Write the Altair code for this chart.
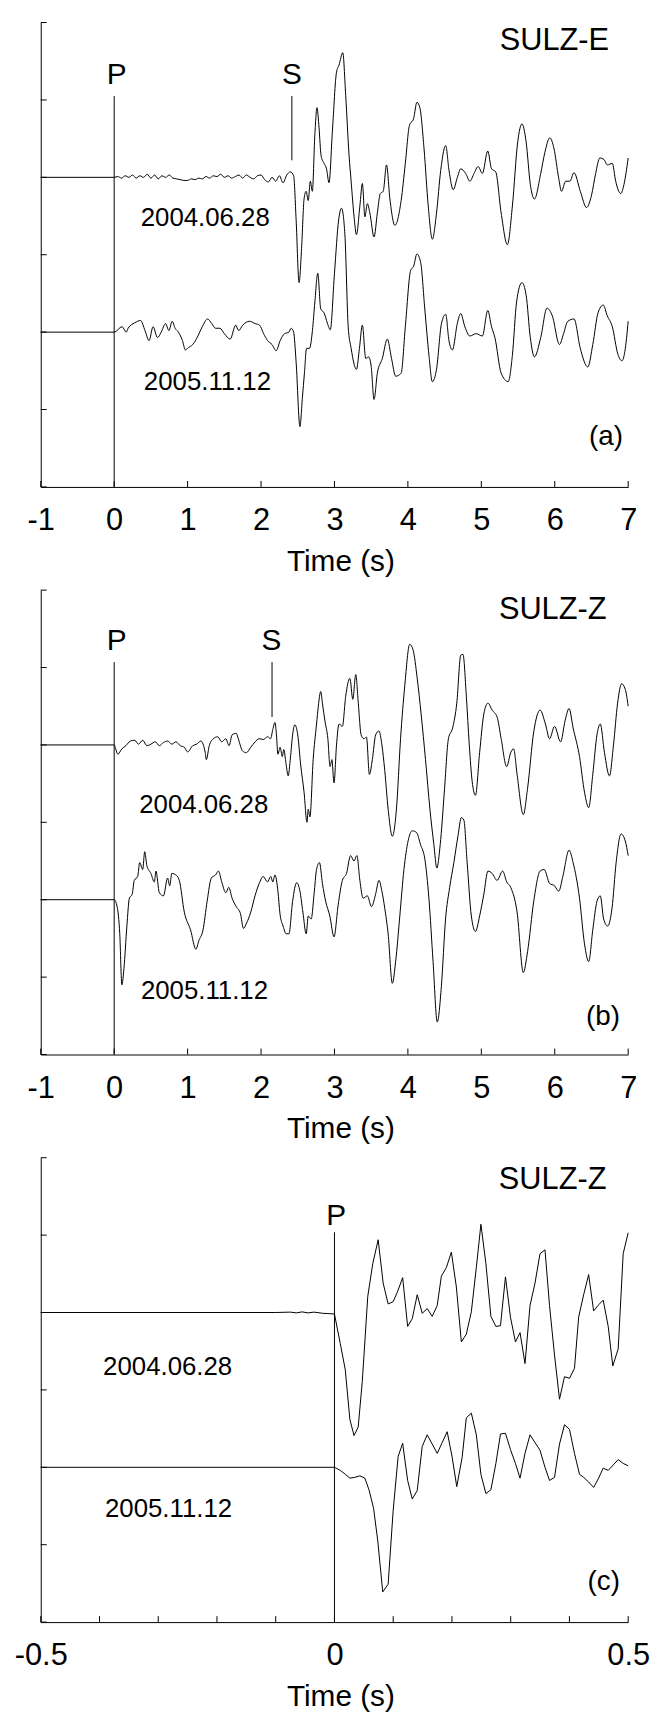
import altair as alt
import pandas as pd

FONT = "Liberation Sans, Arial, Helvetica, sans-serif"

# ---------------- data: (time s, relative amplitude) ----------------
# (a) SULZ-E
E_2004 = [(-1.0, 0.0), (0.0, 0.0), (0.05, 0.01), (0.1, -0.01), (0.15, 0.02), (0.2, 0.0), (0.25, 0.03), (0.3, -0.01),
          (0.35, 0.02), (0.4, 0.0), (0.45, 0.04), (0.5, -0.01), (0.55, 0.03), (0.6, -0.02), (0.65, 0.02), (0.7, 0.0),
          (0.75, 0.03), (0.8, -0.01), (0.85, -0.02), (0.9, -0.03), (0.95, -0.04), (1.0, -0.04), (1.05, -0.02),
          (1.1, -0.03), (1.15, -0.01), (1.2, -0.02), (1.25, 0.01), (1.3, -0.01), (1.35, 0.02), (1.4, 0.01),
          (1.45, 0.04), (1.5, 0.0), (1.55, 0.02), (1.6, -0.01), (1.65, 0.01), (1.7, 0.03), (1.75, -0.01), (1.8, 0.03),
          (1.85, 0.0), (1.9, -0.02), (1.95, 0.02), (2.0, 0.03), (2.05, -0.03), (2.1, -0.06), (2.15, 0.0), (2.2, -0.05),
          (2.25, 0.02), (2.3, -0.07), (2.35, 0.03), (2.4, 0.07), (2.444, 0.02),
          (2.478, -0.55), (2.518, -1.36), (2.552, -0.92), (2.586, -0.28), (2.614, -0.18), (2.643, -0.30),
          (2.671, -0.05), (2.699, -0.18), (2.733, 0.55), (2.762, 0.90), (2.79, 0.64), (2.818, 0.28), (2.858, 0.18),
          (2.892, 0.11), (2.926, -0.07), (2.972, 0.60), (3.028, 1.36), (3.062, 1.45), (3.113, 1.61), (3.153, 1.06),
          (3.199, 0.28), (3.227, -0.05), (3.267, -0.51), (3.30, -0.74), (3.346, -0.37), (3.380, -0.08),
          (3.414, -0.51), (3.448, -0.34), (3.482, -0.46), (3.539, -0.77), (3.584, -0.46), (3.624, -0.21),
          (3.664, -0.18), (3.709, 0.16), (3.755, -0.28), (3.823, -0.62), (3.908, -0.30), (3.965, 0.18), (4.021, 0.67),
          (4.078, 0.76), (4.123, 0.97), (4.163, 0.90), (4.220, 0.37), (4.277, -0.37), (4.333, -0.80), (4.390, -0.46),
          (4.447, 0.09), (4.515, 0.41), (4.560, 0.09), (4.617, -0.16), (4.674, 0.0), (4.719, 0.11), (4.787, 0.05),
          (4.844, -0.05), (4.901, 0.05), (4.957, 0.14), (5.014, 0.05), (5.088, 0.34), (5.139, 0.11), (5.196, 0.07),
          (5.270, -0.46), (5.355, -0.87), (5.423, -0.37), (5.496, 0.46), (5.553, 0.69), (5.610, 0.46),
          (5.667, -0.09), (5.723, -0.28), (5.809, 0.05), (5.865, 0.32), (5.933, 0.51), (5.990, 0.37), (6.052, 0.0),
          (6.092, -0.18), (6.149, -0.05), (6.206, -0.05), (6.262, 0.06), (6.348, -0.18), (6.433, -0.39),
          (6.501, -0.23), (6.557, 0.05), (6.614, 0.25), (6.67, 0.23), (6.716, 0.16), (6.784, 0.18), (6.83, -0.05),
          (6.898, -0.21), (6.943, -0.09), (7.0, 0.25)]

E_2005 = [(-1.0, 0.0), (0.0, 0.0), (0.108, 0.07), (0.165, 0.0), (0.19, 0.05), (0.28, 0.12), (0.36, 0.15), (0.42, 0.02),
          (0.475, -0.11), (0.53, 0.07), (0.59, -0.07), (0.64, 0.0), (0.70, 0.11), (0.745, 0.02), (0.79, 0.14),
          (0.83, 0.05), (0.875, 0.0), (0.93, -0.11), (0.97, -0.23), (1.01, -0.20), (1.07, -0.16), (1.13, -0.07),
          (1.20, 0.07), (1.27, 0.17), (1.33, 0.11), (1.38, 0.05), (1.44, 0.05), (1.50, -0.02), (1.58, -0.09),
          (1.655, 0.09), (1.695, 0.02), (1.75, 0.09), (1.84, 0.14), (1.92, 0.11), (1.98, 0.09), (2.035, -0.02),
          (2.09, -0.11), (2.15, -0.16), (2.206, -0.24), (2.26, -0.11), (2.32, -0.02), (2.38, 0.0), (2.41, 0.05),
          (2.444, 0.0), (2.478, -0.39), (2.53, -1.22), (2.563, -0.85), (2.591, -0.53), (2.62, -0.21), (2.66, -0.21),
          (2.70, 0.02), (2.733, 0.39), (2.773, 0.76), (2.813, 0.30), (2.858, 0.25), (2.904, 0.115), (2.943, 0.03),
          (3.0, 0.76), (3.057, 1.45), (3.096, 1.60), (3.142, 1.26), (3.187, 0.07), (3.227, -0.21), (3.30, -0.48),
          (3.34, -0.21), (3.38, 0.09), (3.426, -0.34), (3.465, -0.32), (3.50, -0.44), (3.539, -0.87), (3.584, -0.53),
          (3.652, -0.34), (3.72, -0.09), (3.777, -0.34), (3.834, -0.57), (3.908, -0.53), (3.965, 0.07), (4.038, 0.80),
          (4.078, 0.85), (4.123, 1.01), (4.174, 0.90), (4.23, 0.30), (4.287, -0.30), (4.333, -0.64), (4.39, -0.48),
          (4.458, 0.115), (4.515, 0.23), (4.56, -0.115), (4.606, -0.23), (4.674, 0.115), (4.719, 0.24), (4.776, 0.07),
          (4.844, -0.05), (4.929, -0.02), (5.014, -0.05), (5.088, 0.28), (5.139, 0.07), (5.185, -0.07), (5.27, -0.53),
          (5.366, -0.64), (5.423, -0.30), (5.48, 0.39), (5.553, 0.64), (5.61, 0.48), (5.667, -0.07), (5.723, -0.32),
          (5.809, -0.07), (5.894, 0.31), (5.967, 0.21), (6.064, -0.16), (6.12, -0.02), (6.177, 0.14), (6.262, 0.17),
          (6.348, -0.21), (6.45, -0.45), (6.518, -0.16), (6.59, 0.25), (6.66, 0.35), (6.716, 0.21), (6.784, 0.07),
          (6.858, -0.28), (6.915, -0.37), (6.955, -0.25), (7.0, 0.14)]

# (b) SULZ-Z
Z_2004 = [(-1.0, 0.0), (0.0, 0.0), (0.02, -0.05), (0.05, -0.12), (0.105, -0.05), (0.16, -0.01), (0.22, 0.05),
          (0.28, 0.06), (0.33, 0.01), (0.39, 0.06), (0.445, -0.01), (0.50, 0.01), (0.56, 0.04), (0.615, -0.01),
          (0.67, 0.03), (0.73, 0.05), (0.785, 0.01), (0.84, 0.04), (0.90, -0.01), (0.955, -0.03), (1.0, -0.09),
          (1.07, -0.01), (1.125, 0.01), (1.18, 0.05), (1.24, -0.10), (1.255, -0.19), (1.295, -0.01), (1.35, 0.08),
          (1.41, 0.105), (1.465, 0.04), (1.52, 0.08), (1.565, -0.01), (1.606, 0.13), (1.663, 0.15), (1.69, 0.08),
          (1.75, -0.08), (1.80, -0.10), (1.86, -0.03), (1.92, 0.04), (1.975, 0.08), (2.03, 0.07), (2.09, 0.105),
          (2.13, 0.08), (2.16, 0.20), (2.19, 0.29), (2.21, 0.13), (2.23, -0.12), (2.26, -0.03), (2.29, -0.15),
          (2.31, -0.06), (2.34, -0.24), (2.37, -0.40), (2.40, -0.17), (2.43, 0.13), (2.46, 0.26), (2.50, 0.13),
          (2.54, -0.26), (2.586, -0.61), (2.626, -1.0), (2.643, -0.83), (2.666, -0.93), (2.71, -0.19), (2.756, 0.27),
          (2.78, 0.50), (2.813, 0.69), (2.836, 0.54), (2.87, 0.31), (2.91, 0.08), (2.94, -0.28), (2.965, -0.19),
          (2.994, -0.49), (3.028, 0.0), (3.062, 0.27), (3.108, 0.24), (3.153, 0.63), (3.21, 0.86), (3.25, 0.59),
          (3.29, 0.91), (3.323, 0.56), (3.363, 0.13), (3.40, 0.08), (3.436, 0.10), (3.476, -0.38), (3.516, -0.19),
          (3.561, 0.13), (3.606, 0.18), (3.646, 0.0), (3.685, -0.33), (3.731, -0.83), (3.788, -1.18), (3.844, -0.83),
          (3.90, 0.08), (3.958, 0.77), (4.025, 1.30), (4.07, 1.23), (4.127, 0.86), (4.18, 0.40), (4.24, -0.19),
          (4.30, -0.83), (4.354, -1.29), (4.394, -1.59), (4.44, -1.29), (4.496, -0.61), (4.552, 0.08), (4.609, 0.22),
          (4.666, 0.54), (4.72, 1.16), (4.75, 1.17), (4.796, 0.63), (4.836, 0.0), (4.875, -0.47), (4.92, -0.65),
          (4.977, -0.10), (5.034, 0.40), (5.09, 0.54), (5.147, 0.45), (5.215, 0.36), (5.27, 0.08), (5.345, -0.28),
          (5.40, -0.10), (5.44, -0.05), (5.487, -0.38), (5.572, -0.90), (5.63, -0.56), (5.714, 0.17), (5.80, 0.45),
          (5.873, 0.27), (5.93, 0.08), (5.997, 0.24), (6.08, 0.04), (6.14, 0.31), (6.195, 0.47), (6.25, 0.22),
          (6.337, -0.15), (6.405, -0.61), (6.462, -0.81), (6.518, -0.38), (6.575, 0.13), (6.62, 0.27), (6.677, -0.10),
          (6.745, -0.40), (6.80, 0.0), (6.856, 0.54), (6.91, 0.79), (6.96, 0.72), (7.0, 0.50)]

Z_2005 = [(-1.0, 0.0), (0.0, 0.0), (0.04, -0.09), (0.076, -0.44), (0.105, -1.10), (0.133, -0.89), (0.173, -0.34),
          (0.207, 0.02), (0.245, 0.07), (0.274, 0.25), (0.32, 0.30), (0.348, 0.48), (0.388, 0.39), (0.416, 0.62),
          (0.445, 0.44), (0.50, 0.34), (0.547, 0.23), (0.569, 0.37), (0.615, 0.09), (0.671, 0.05), (0.728, 0.28),
          (0.756, 0.18), (0.785, 0.34), (0.84, 0.32), (0.887, 0.25), (0.955, -0.16), (1.04, -0.39), (1.113, -0.64),
          (1.153, -0.53), (1.21, -0.39), (1.266, -0.02), (1.323, 0.28), (1.38, 0.32), (1.42, 0.37), (1.465, 0.23),
          (1.52, 0.09), (1.56, 0.16), (1.606, 0.02), (1.663, -0.09), (1.72, -0.18), (1.76, -0.37), (1.804, -0.30),
          (1.86, -0.16), (1.918, 0.05), (1.975, 0.21), (2.03, 0.30), (2.088, 0.23), (2.133, 0.30), (2.16, 0.23),
          (2.19, 0.32), (2.23, 0.11), (2.258, -0.18), (2.30, -0.34), (2.343, -0.44), (2.38, -0.44), (2.43, -0.02),
          (2.485, 0.22), (2.53, 0.11), (2.57, -0.16), (2.615, -0.44), (2.643, -0.21), (2.683, -0.25), (2.722, 0.07),
          (2.756, 0.39), (2.796, 0.48), (2.836, 0.21), (2.88, -0.02), (2.937, -0.21), (2.994, -0.48), (3.05, -0.07),
          (3.108, 0.25), (3.164, 0.34), (3.22, 0.57), (3.266, 0.50), (3.306, 0.57), (3.346, 0.25), (3.39, 0.02),
          (3.448, 0.05), (3.504, -0.09), (3.56, 0.07), (3.606, 0.25), (3.646, 0.11), (3.685, -0.11), (3.731, -0.44),
          (3.788, -1.08), (3.833, -0.80), (3.89, -0.21), (3.946, 0.39), (4.003, 0.76), (4.06, 0.89), (4.116, 0.87),
          (4.173, 0.71), (4.23, 0.53), (4.286, 0.02), (4.343, -0.80), (4.40, -1.58), (4.456, -1.12), (4.513, -0.25),
          (4.569, 0.16), (4.626, 0.48), (4.683, 0.83), (4.728, 1.06), (4.762, 1.03), (4.807, 0.48), (4.864, -0.21),
          (4.92, -0.41), (4.977, -0.21), (5.034, 0.07), (5.09, 0.37), (5.147, 0.34), (5.215, 0.25), (5.29, 0.37),
          (5.346, 0.23), (5.40, 0.16), (5.487, -0.16), (5.572, -0.94), (5.63, -0.67), (5.714, -0.02), (5.80, 0.37),
          (5.856, 0.39), (5.93, 0.21), (5.997, 0.18), (6.054, 0.11), (6.11, 0.30), (6.195, 0.64), (6.25, 0.48),
          (6.337, 0.02), (6.405, -0.57), (6.462, -0.80), (6.518, -0.39), (6.575, -0.02), (6.62, 0.05), (6.666, -0.25),
          (6.72, -0.34), (6.78, -0.11), (6.836, 0.48), (6.903, 0.85), (6.96, 0.76), (7.0, 0.57)]

# (c) SULZ-Z, zoom around P
ZP_2004 = [(-0.5, 0.0), (-0.1, 0.0), (-0.075, 0.005), (-0.065, -0.005), (-0.055, 0.008), (-0.045, -0.005),
           (-0.035, 0.005), (-0.02, -0.01), (-0.008, -0.015), (0.0, -0.02), (0.0099, -0.40), (0.0184, -0.74),
           (0.0262, -1.38), (0.0333, -1.59), (0.0404, -1.48), (0.0474, -0.89), (0.0567, 0.21), (0.0652, 0.63),
           (0.0744, 0.94), (0.0829, 0.38), (0.0914, 0.11), (0.0999, 0.14), (0.1069, 0.26), (0.1161, 0.45),
           (0.1246, -0.18), (0.1324, -0.08), (0.1409, 0.23), (0.1494, -0.01), (0.1579, 0.05), (0.1664, -0.05),
           (0.1749, 0.09), (0.182, 0.47), (0.1905, 0.58), (0.199, 0.78), (0.2075, 0.33), (0.216, -0.38),
           (0.2245, -0.28), (0.233, 0.01), (0.2415, 0.58), (0.2493, 1.14), (0.2578, 0.63), (0.2663, -0.05),
           (0.2748, -0.18), (0.2826, -0.17), (0.2911, 0.46), (0.2996, -0.06), (0.3081, -0.38), (0.3159, -0.26),
           (0.3244, -0.66), (0.3329, 0.09), (0.3414, 0.38), (0.3499, 0.76), (0.3584, 0.81), (0.3661, 0.09),
           (0.3746, -0.55), (0.3831, -1.12), (0.3916, -0.83), (0.4001, -0.85), (0.4086, -0.72), (0.4157, -0.06),
           (0.4242, 0.23), (0.4327, 0.49), (0.4412, 0.02), (0.4497, 0.10), (0.4575, 0.16), (0.466, -0.18),
           (0.4738, -0.69), (0.483, -0.47), (0.4915, 0.76), (0.5, 1.03)]

ZP_2005 = [(-0.5, 0.0), (0.0, 0.0), (0.0099, -0.04), (0.0184, -0.09), (0.0262, -0.14), (0.0347, -0.13),
           (0.0432, -0.11), (0.0517, -0.14), (0.0588, -0.29), (0.0666, -0.53), (0.0737, -0.95), (0.0822, -1.61),
           (0.0914, -1.51), (0.0999, -0.56), (0.1084, 0.14), (0.1161, 0.31), (0.1246, -0.17), (0.1324, -0.41),
           (0.1409, -0.30), (0.1494, 0.27), (0.1579, 0.42), (0.1664, 0.30), (0.1749, 0.18), (0.1834, 0.32),
           (0.1919, 0.46), (0.2004, 0.13), (0.2082, -0.25), (0.2174, 0.13), (0.2245, 0.64), (0.233, 0.70),
           (0.2415, 0.42), (0.2493, -0.09), (0.2578, -0.34), (0.2663, -0.29), (0.2748, 0.05), (0.2826, 0.43),
           (0.2911, 0.44), (0.2996, 0.23), (0.3081, 0.05), (0.3159, -0.14), (0.3244, 0.18), (0.3329, 0.42),
           (0.3414, 0.32), (0.3499, 0.22), (0.3584, 0.0), (0.3661, -0.17), (0.3746, -0.13), (0.3831, 0.30),
           (0.3916, 0.55), (0.4001, 0.49), (0.4086, 0.18), (0.4171, -0.09), (0.4242, -0.13), (0.4327, -0.19),
           (0.4412, -0.26), (0.4497, -0.14), (0.4575, -0.01), (0.466, -0.04), (0.4745, 0.03), (0.483, 0.10),
           (0.4915, 0.05), (0.5, 0.02)]

# trace offsets on the (unlabelled) y axis
OFFSETS = {"2004.06.28": 4, "2005.11.12": 2}

TICKS_AB = [-1, 0, 1, 2, 3, 4, 5, 6, 7]
LABELS_AB = [-1, 0, 1, 2, 3, 4, 5, 6, 7]
TICKS_C = [-0.5, -0.4, -0.3, -0.2, -0.1, 0.0, 0.1, 0.2, 0.3, 0.4, 0.5]
LABELS_C = [-0.5, 0, 0.5]
Y_TICKS = [0, 1, 2, 3, 4, 5, 6]

# annotations (text, t, y, size, align)
ANN_A = [("SULZ-E", 6.74, 5.65, 31, "right"), ("P", 0.035, 5.21, 30, "center"), ("S", 2.42, 5.21, 30, "center"),
         ("2004.06.28", 1.24, 3.375, 26, "center"), ("2005.11.12", 1.27, 1.255, 26, "center"),
         ("(a)", 6.93, 0.548, 28, "right")]
ANN_B = [("SULZ-Z", 6.705, 5.624, 31, "right"), ("P", 0.035, 5.225, 30, "center"), ("S", 2.14, 5.225, 30, "center"),
         ("2004.06.28", 1.22, 3.124, 26, "center"), ("2005.11.12", 1.23, 0.716, 26, "center"),
         ("(b)", 6.887, 0.376, 28, "right")]
ANN_C = [("SULZ-Z", 0.463, 5.594, 31, "right"), ("P", 0.003, 5.13, 30, "center"),
         ("2004.06.28", -0.284, 3.19, 26, "center"), ("2005.11.12", -0.2825, 1.355, 26, "center"),
         ("(c)", 0.486, 0.41, 28, "right")]
# phase marker lines (t, y top, y bottom)
MARK_A = [(0.0, 5.05, 0.0), (2.42, 5.05, 4.22)]
MARK_B = [(0.0, 5.07, 0.0), (2.15, 5.07, 4.36)]
MARK_C = [(0.0, 5.037, 0.0)]

W, H = 592, 468


def panel(traces, xdom, ticks, labels, ann, marks, interp):
    rows = []
    for name, pts in traces:
        for t, a in pts:
            rows.append({"trace": name, "t": t, "y": OFFSETS[name] + a})
    df = pd.DataFrame(rows)
    xs = alt.Scale(domain=xdom, nice=False, zero=False)
    ys = alt.Scale(domain=[0, 6], nice=False, zero=False)
    xaxis = alt.Axis(values=labels, labelExpr="'' + datum.value", ticks=False, tickSize=0, grid=False,
                     domainColor="black", domainWidth=1, labelFont=FONT, labelFontSize=31, labelColor="black",
                     labelPadding=43, labelBaseline="alphabetic", labelFlush=False, labelOverlap=False,
                     title="Time (s)", titleFont=FONT, titleFontSize=30, titleFontWeight="normal",
                     titleColor="black", titleBaseline="alphabetic", titleY=84, titleX=302)
    yaxis = alt.Axis(labels=False, ticks=False, tickSize=0, grid=False, title="", domainColor="black",
                     domainWidth=1)
    X = lambda f: alt.X(f, scale=xs, axis=xaxis, title="Time (s)")
    Y = lambda f: alt.Y(f, scale=ys, axis=yaxis, title="")

    layers = [alt.Chart(df).mark_line(color="black", strokeWidth=1, interpolate=interp).encode(
        x=X("t:Q"), y=Y("y:Q"), detail="trace:N")]
    xt = pd.DataFrame({"t": ticks})
    layers.append(alt.Chart(xt).mark_rule(color="black", strokeWidth=1).encode(
        x=X("t:Q"), y=alt.value(H - 6), y2=alt.value(H)))
    yt = pd.DataFrame({"y": Y_TICKS})
    layers.append(alt.Chart(yt).mark_rule(color="black", strokeWidth=1).encode(
        y=Y("y:Q"), x=alt.value(0), x2=alt.value(6)))
    mk = pd.DataFrame([{"t": t, "y": a, "y2": b} for t, a, b in marks])
    layers.append(alt.Chart(mk).mark_rule(color="black", strokeWidth=1).encode(
        x=X("t:Q"), y=Y("y:Q"), y2="y2:Q"))
    for txt, t, y, size, align in ann:
        d = pd.DataFrame([{"t": t, "y": y, "label": txt}])
        layers.append(alt.Chart(d).mark_text(font=FONT, fontSize=size, align=align, baseline="alphabetic",
                                             color="black").encode(
            x=X("t:Q"), y=Y("y:Q"), text="label:N"))
    return alt.layer(*layers).properties(width=W, height=H)


pa = panel([("2004.06.28", E_2004), ("2005.11.12", E_2005)], [-1, 7], TICKS_AB, LABELS_AB, ANN_A, MARK_A,
           "monotone")
pb = panel([("2004.06.28", Z_2004), ("2005.11.12", Z_2005)], [-1, 7], TICKS_AB, LABELS_AB, ANN_B, MARK_B,
           "monotone")
pc = panel([("2004.06.28", ZP_2004), ("2005.11.12", ZP_2005)], [-0.5, 0.5], TICKS_C, LABELS_C, ANN_C, MARK_C,
           "linear")

chart = alt.vconcat(pa, pb, pc, spacing=104, bounds="flush").properties(
    padding={"left": 5, "top": 7, "right": 0, "bottom": 0}
).configure_view(stroke="transparent")

chart.save("out.html", embed_options={"renderer": "svg", "actions": False})
